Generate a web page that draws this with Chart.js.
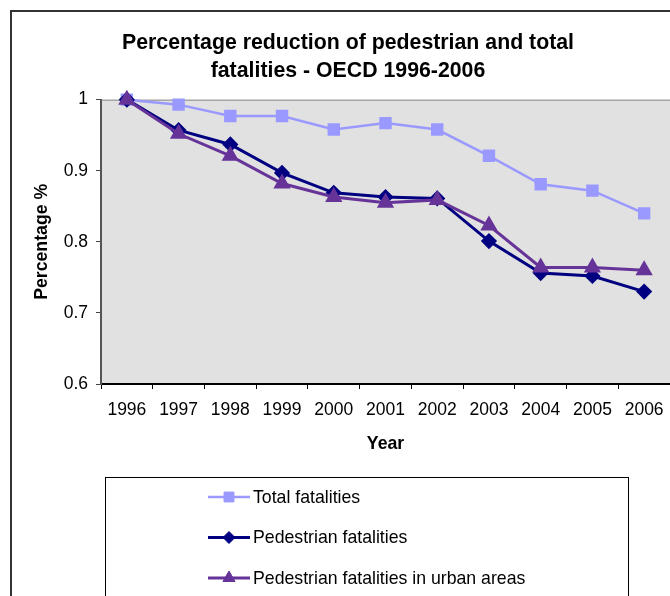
<!DOCTYPE html>
<html>
<head>
<meta charset="utf-8">
<script src="https://cdn.jsdelivr.net/npm/chart.js@4/dist/chart.umd.min.js"></script>
<style>
  html, body { margin: 0; padding: 0; background: #fff; }
  #chart { display: block; }
</style>
</head>
<body>
<canvas id="chart" width="670" height="596"></canvas>
<script>
// 數據
const years = ['1996', '1997', '1998', '1999', '2000', '2001', '2002', '2003', '2004', '2005', '2006'];
const totalFatalities = [1.0, 0.993, 0.977, 0.977, 0.958, 0.967, 0.958, 0.921, 0.881, 0.872, 0.840];
const pedestrianFatalities = [1.0, 0.957, 0.937, 0.897, 0.869, 0.863, 0.861, 0.801, 0.756, 0.752, 0.730];
const urbanFatalities = [1.0, 0.952, 0.921, 0.882, 0.863, 0.855, 0.859, 0.823, 0.764, 0.764, 0.760];
const yTicks = [0.6, 0.7, 0.8, 0.9, 1];

const FONT = '"Liberation Sans", Arial, sans-serif';
Chart.defaults.font.family = FONT;
Chart.defaults.color = '#000';

// 繪圖區背景 + 外框
const backgroundPlugin = {
    id: 'background',
    afterLayout(chart) {
        // Excel 的標題置中於整張圖 (比畫面略寬), 稍微右移
        chart.titleBlock.left += 13;
        chart.titleBlock.right += 13;
    },
    beforeDraw(chart) {
        const { ctx, chartArea: a } = chart;
        ctx.save();
        ctx.strokeStyle = '#333';
        ctx.lineWidth = 2;
        ctx.strokeRect(11, 11, 800, 800);
        ctx.fillStyle = '#e1e1e1';
        ctx.fillRect(a.left, a.top, a.right - a.left, a.bottom - a.top);
        ctx.strokeStyle = '#888';
        ctx.lineWidth = 1;
        ctx.beginPath();
        ctx.moveTo(a.left, a.top + 0.5);
        ctx.lineTo(a.right, a.top + 0.5);
        ctx.stroke();
        ctx.restore();
    }
};

// 圖例 (Excel 風格, 有外框)
const boxLegendPlugin = {
    id: 'boxLegend',
    afterDraw(chart) {
        const ctx = chart.ctx;
        ctx.save();
        ctx.strokeStyle = '#000';
        ctx.lineWidth = 1;
        ctx.strokeRect(105.5, 477.5, 523, 200);
        chart.data.datasets.forEach((ds, i) => {
            const y = 497 + i * 40.5;
            ctx.strokeStyle = ds.borderColor;
            ctx.lineWidth = ds.borderWidth;
            ctx.beginPath();
            ctx.moveTo(208, y);
            ctx.lineTo(250, y);
            ctx.stroke();
            ctx.fillStyle = ds.borderColor;
            ctx.lineWidth = 1;
            Chart.helpers.drawPoint(ctx, {
                pointStyle: ds.pointStyle,
                radius: ds.pointRadius,
                rotation: 0,
                borderWidth: 1
            }, 229, y);
            ctx.fillStyle = '#000';
            ctx.font = '17.7px ' + FONT;
            ctx.textBaseline = 'middle';
            ctx.textAlign = 'left';
            ctx.fillText(ds.label, 253, y + 1);
        });
        ctx.restore();
    }
};

function series(label, data, color, style, radius, width, order) {
    return {
        label: label,
        data: data,
        borderColor: color,
        backgroundColor: color,
        pointBackgroundColor: color,
        pointBorderColor: color,
        borderWidth: width,
        pointStyle: style,
        pointRadius: radius,
        pointHoverRadius: radius,
        tension: 0,
        clip: false,
        order: order
    };
}

new Chart(document.getElementById('chart'), {
    type: 'line',
    data: {
        labels: years,
        datasets: [
            series('Total fatalities', totalFatalities, '#9999ff', 'rect', 7, 2.5, 2),
            series('Pedestrian fatalities', pedestrianFatalities, '#000080', 'rectRot', 6, 3, 1),
            series('Pedestrian fatalities in urban areas', urbanFatalities, '#663399', 'triangle', 7, 3, 0)
        ]
    },
    plugins: [backgroundPlugin, boxLegendPlugin],
    options: {
        responsive: false,
        animation: false,
        layout: { padding: 0, autoPadding: false },
        plugins: {
            legend: { display: false },
            tooltip: { enabled: false },
            title: {
                display: true,
                text: ['Percentage reduction of pedestrian and total', 'fatalities - OECD 1996-2006'],
                font: { size: 21.3, weight: 'bold', lineHeight: 1.33 },
                color: '#000',
                padding: { top: 29, bottom: 14 }
            }
        },
        scales: {
            x: {
                offset: true,
                grid: { offset: true, drawOnChartArea: false, tickLength: 5, color: '#000', tickWidth: 1 },
                border: { color: '#000', width: 2 },
                ticks: { font: { size: 17.5 }, padding: 11, maxRotation: 0, autoSkip: false },
                title: {
                    display: true,
                    text: 'Year',
                    font: { size: 17.7, weight: 'bold' },
                    padding: { top: 0, bottom: 141 }
                },
                afterFit(scale) {
                    scale.height = 212;
                    scale.paddingLeft = 0;
                    scale.paddingRight = 0;
                }
            },
            y: {
                min: 0.6,
                max: 1,
                afterBuildTicks(scale) { scale.ticks = yTicks.map(v => ({ value: v })); },
                grid: { drawOnChartArea: false, tickLength: 5, color: '#444', tickWidth: 1 },
                border: { color: '#555', width: 2 },
                ticks: { font: { size: 17.5 }, padding: 8, callback: v => String(Math.round(v * 10) / 10) },
                title: {
                    display: true,
                    text: 'Percentage %',
                    font: { size: 17.7, weight: 'bold' },
                    padding: { top: 31, bottom: 0 }
                },
                afterFit(scale) { scale.width = 101; }
            }
        }
    }
});
</script>
</body>
</html>
